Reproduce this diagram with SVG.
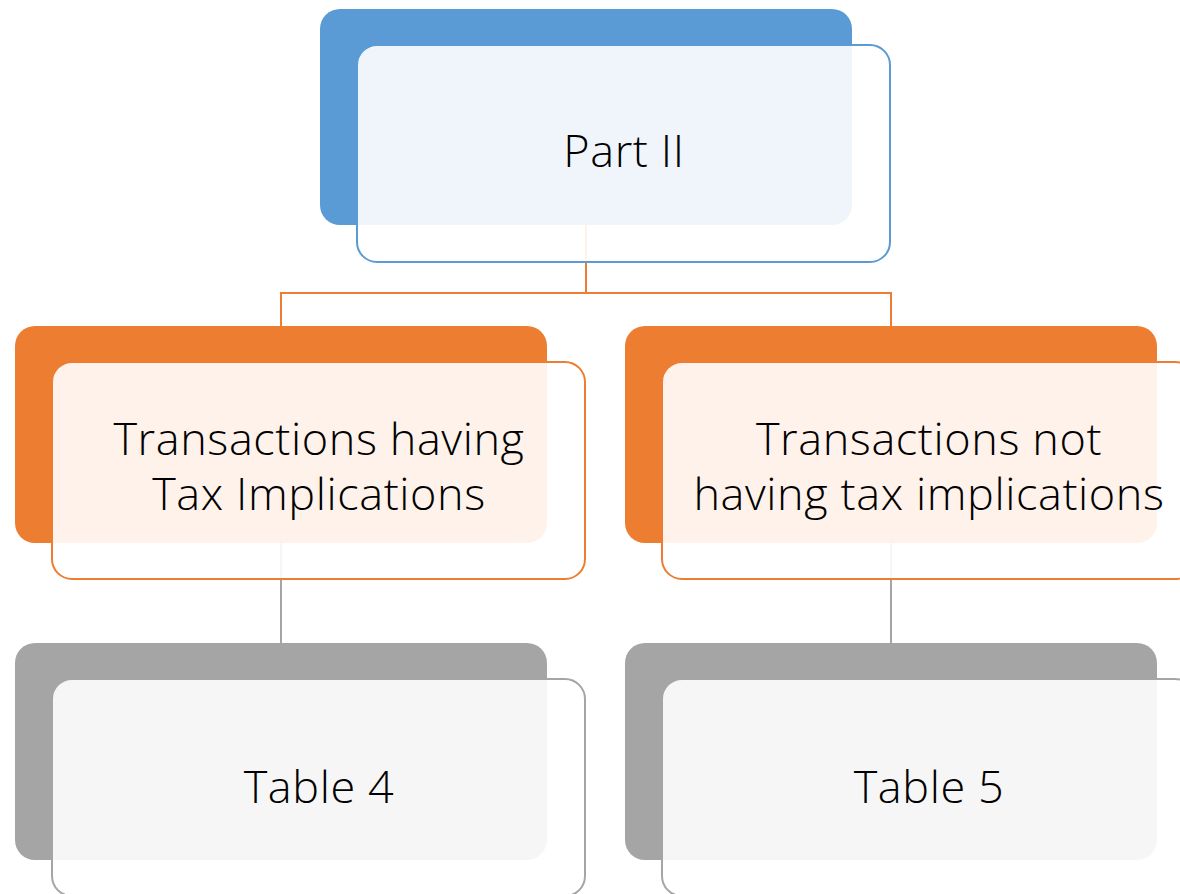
<svg xmlns="http://www.w3.org/2000/svg" width="1180" height="894" viewBox="0 0 1180 894">
  <style>
    .back { stroke: none; }
    .front { fill: #ffffff; fill-opacity: 0.9; stroke-width: 2; }
    .blue .back { fill: #5B9BD5; }
    .blue .front { stroke: #5B9BD5; }
    .orange .back { fill: #ED7D31; }
    .orange .front { stroke: #ED7D31; }
    .gray .back { fill: #A5A5A5; }
    .gray .front { stroke: #A5A5A5; }
    .label { font-family: "Open Sans", "Liberation Sans", sans-serif; font-weight: 300; font-size: 45px; letter-spacing: 0.6px; fill: #000000; text-anchor: middle; }
    .link { fill: none; stroke-width: 2; }
    .link-orange { stroke: #ED7D31; }
    .link-gray { stroke: #A5A5A5; }
  </style>
  <rect width="1180" height="894" fill="#ffffff"/>

  <!-- connectors sit beneath the nodes -->
  <g id="connectors">
    <path class="link link-orange" d="M586 225 V293 H281 V326 M586 293 H891 V326"/>
    <path class="link link-gray" d="M281 543 V643"/>
    <path class="link link-gray" d="M891 543 V643"/>
  </g>

  <g id="part-ii" class="blue">
    <rect class="back" x="320" y="9" width="532" height="216" rx="20"/>
    <rect class="front" x="357" y="45" width="533" height="217" rx="20"/>
    <text class="label" x="624" y="167">Part II</text>
  </g>

  <g id="tax-implications" class="orange">
    <rect class="back" x="15" y="326" width="532" height="217" rx="20"/>
    <rect class="front" x="52" y="362" width="533" height="217" rx="20"/>
    <text class="label" x="319" y="455">Transactions having</text>
    <text class="label" x="319" y="510">Tax Implications</text>
  </g>

  <g id="no-tax-implications" class="orange">
    <rect class="back" x="625" y="326" width="532" height="217" rx="20"/>
    <rect class="front" x="662" y="362" width="533" height="217" rx="20"/>
    <text class="label" x="929" y="455">Transactions not</text>
    <text class="label" x="929" y="510">having tax implications</text>
  </g>

  <g id="table-4" class="gray">
    <rect class="back" x="15" y="643" width="532" height="217" rx="20"/>
    <rect class="front" x="52" y="679" width="533" height="217" rx="20"/>
    <text class="label" x="319" y="803">Table 4</text>
  </g>

  <g id="table-5" class="gray">
    <rect class="back" x="625" y="643" width="532" height="217" rx="20"/>
    <rect class="front" x="662" y="679" width="533" height="217" rx="20"/>
    <text class="label" x="929" y="803">Table 5</text>
  </g>
</svg>
